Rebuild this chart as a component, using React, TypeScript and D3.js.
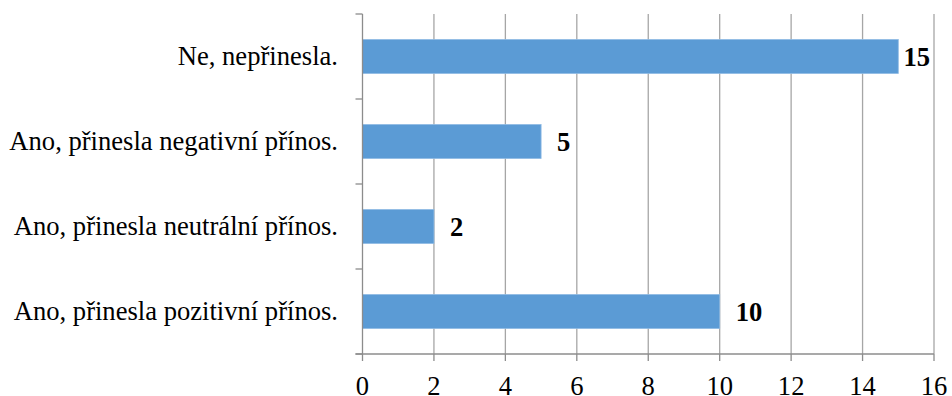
import React from "react";
import * as d3 from "d3";

const categories = [
  "Ne, nepřinesla.",
  "Ano, přinesla negativní přínos.",
  "Ano, přinesla neutrální přínos.",
  "Ano, přinesla pozitivní přínos.",
];
const values = [15, 5, 2, 10];
const xTicks = [0, 2, 4, 6, 8, 10, 12, 14, 16];

const W = 952;
const H = 396;
const margin = { left: 362.5, right: 18, top: 14, bottom: 42 };
const FONT = "Liberation Serif, DejaVu Serif, serif";
const FS = 26.6;

export default function App() {
  const x = d3.scaleLinear().domain([0, 16]).range([margin.left, W - margin.right]);
  const y = d3
    .scaleBand<string>()
    .domain(categories)
    .range([margin.top, H - margin.bottom])
    .paddingInner(0.6)
    .paddingOuter(0.3);
  const plotBottom = H - margin.bottom;
  const plotRight = x(16);
  const mid = (c: string) => y(c)! + y.bandwidth() / 2;

  return (
    <div style={{ position: "absolute", left: 0, top: 0, width: W, height: H, background: "#fff" }}>
      <svg width={W} height={H} style={{ display: "block", fontFamily: FONT }}>
        {/* vertical gridlines */}
        {xTicks.slice(1).map((t) => (
          <line key={"g" + t} x1={x(t)} x2={x(t)} y1={margin.top} y2={plotBottom} stroke="#a6a6a6" strokeWidth={1.3} />
        ))}
        {/* bars */}
        {categories.map((c, i) => (
          <rect
            key={c}
            x={x(0)}
            y={y(c)!}
            width={x(values[i]) - x(0)}
            height={y.bandwidth()}
            fill="#5b9bd5"
            stroke="#8fbbe4"
            strokeWidth={0.8}
          />
        ))}
        {/* category axis */}
        <line x1={x(0)} x2={x(0)} y1={margin.top} y2={plotBottom} stroke="#8c8c8c" strokeWidth={1.3} />
        {d3.range(categories.length + 1).map((k) => {
          const yy = margin.top + (k * (plotBottom - margin.top)) / categories.length;
          return <line key={"yt" + k} x1={x(0) - 7} x2={x(0)} y1={yy} y2={yy} stroke="#8c8c8c" strokeWidth={1.3} />;
        })}
        {categories.map((c) => (
          <text key={"l" + c} x={338} y={mid(c) + 8} textAnchor="end" fontFamily={FONT} fontSize={FS} fill="#000">
            {c}
          </text>
        ))}
        {/* value axis */}
        <line x1={x(0) - 7} x2={plotRight} y1={plotBottom} y2={plotBottom} stroke="#8c8c8c" strokeWidth={1.3} />
        {xTicks.map((t) => (
          <g key={"xt" + t}>
            <line x1={x(t)} x2={x(t)} y1={plotBottom} y2={plotBottom + 7} stroke="#8c8c8c" strokeWidth={1.3} />
            <text x={x(t)} y={395} textAnchor="middle" fontFamily={FONT} fontSize={FS} fill="#000">
              {t}
            </text>
          </g>
        ))}
        {/* value labels */}
        {categories.map((c, i) => {
          const end = x(values[i]);
          const fits = end + 16 + 28 < plotRight;
          return (
            <text
              key={"v" + c}
              x={fits ? end + 16 : plotRight - 4}
              y={mid(c) + 9}
              textAnchor={fits ? "start" : "end"}
              fontFamily={FONT}
              fontSize={FS}
              fontWeight="bold"
              fill="#000"
            >
              {values[i]}
            </text>
          );
        })}
      </svg>
    </div>
  );
}
